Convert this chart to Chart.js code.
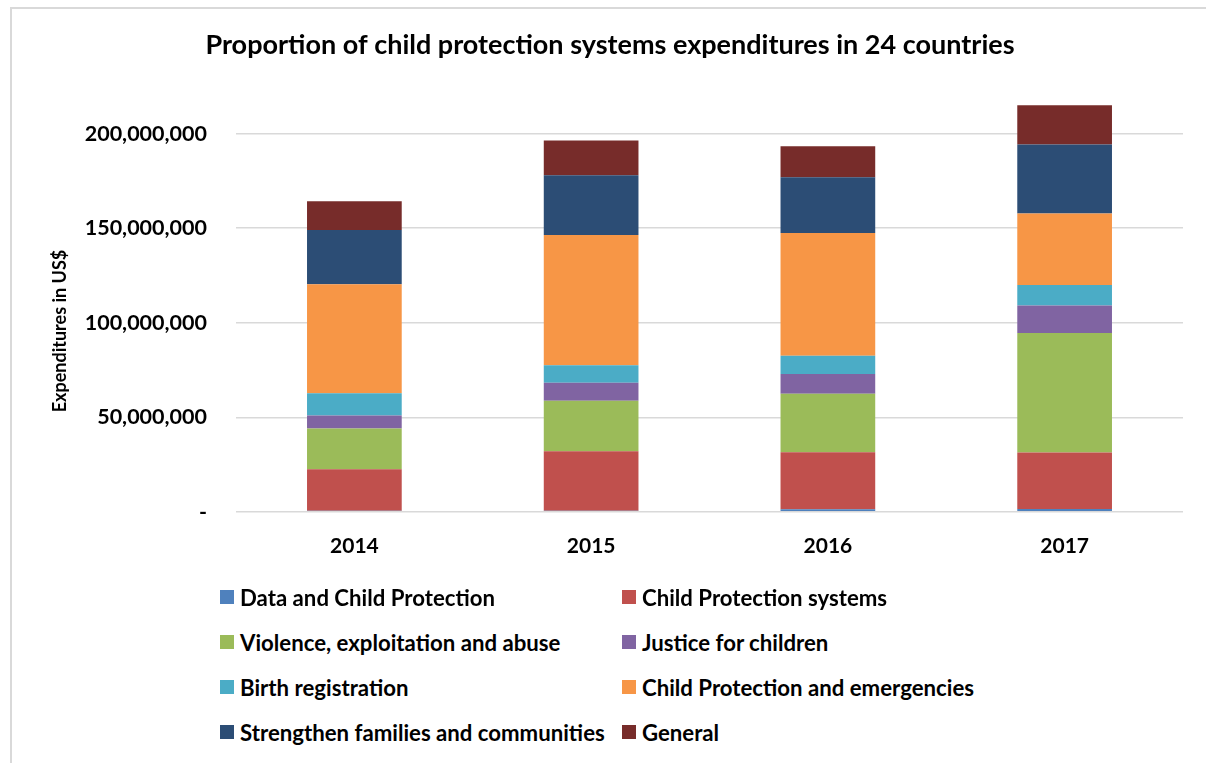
<!DOCTYPE html>
<html>
<head>
<meta charset="utf-8">
<script src="https://cdn.jsdelivr.net/npm/chart.js@4/dist/chart.umd.min.js"></script>
<style>
  html, body { margin: 0; padding: 0; background: #fff; }
  body { width: 1206px; height: 763px; position: relative; overflow: hidden; font-family: Lato, sans-serif; }
  #frame { position: absolute; left: 10px; top: 7px; width: 1210px; height: 770px;
           border-left: 2px solid #d9d9d9; border-top: 2px solid #d9d9d9; }
  #myChart { position: absolute; left: 0; top: 0; }
  #legend { position: absolute; left: 220px; top: 584px; width: 900px; }
  .item { position: absolute; display: flex; align-items: center; font-weight: bold;
          font-size: 22.2px; color: #000; white-space: nowrap; height: 26px; }
  .box { width: 14px; height: 14px; margin-right: 6px; }
</style>
</head>
<body>
<div id="frame"></div>
<canvas id="myChart" width="1206" height="595"></canvas>
<div id="legend"></div>
<script>
// Годы
const years = ["2014", "2015", "2016", "2017"];

// Расходы по направлениям, US$
const dataChildProtection = [500000, 500000, 1300000, 1500000];
const cpSystems = [22000000, 31500000, 30200000, 29800000];
const violence = [21600000, 26800000, 31000000, 63300000];
const justice = [6800000, 9400000, 10400000, 14500000];
const birthReg = [11800000, 9300000, 9600000, 10800000];
const cpEmergencies = [57600000, 68900000, 65000000, 37900000];
const families = [28800000, 31600000, 29400000, 36500000];
const general = [15200000, 18400000, 16400000, 20700000];

const yTicks = [0, 50000000, 100000000, 150000000, 200000000];
const yTitle = "Expenditures in US$";

const series = [
	{ label: "Data and Child Protection", data: dataChildProtection, color: "#4F81BD" },
	{ label: "Child Protection systems", data: cpSystems, color: "#C0504D" },
	{ label: "Violence, exploitation and abuse", data: violence, color: "#9BBB59" },
	{ label: "Justice for children", data: justice, color: "#8064A2" },
	{ label: "Birth registration", data: birthReg, color: "#4BACC6" },
	{ label: "Child Protection and emergencies", data: cpEmergencies, color: "#F79646" },
	{ label: "Strengthen families and communities", data: families, color: "#2C4D75" },
	{ label: "General", data: general, color: "#772C2A" },
];

// Подпись оси Y — чуть ниже центра, как в оригинале
const yTitlePlugin = {
	id: "yTitle",
	afterDraw(chart) {
		const c = chart.ctx;
		c.save();
		c.translate(60, 331);
		c.rotate(-Math.PI / 2);
		c.font = "bold 18px Lato";
		c.fillStyle = "#000";
		c.textAlign = "center";
		c.textBaseline = "middle";
		c.fillText(yTitle, 0, 0);
		c.restore();
	},
};

const ctx = document.getElementById("myChart");

const chart = new Chart(ctx, {
	type: "bar",
	data: {
		labels: years,
		datasets: series.map((s) => ({
			label: s.label,
			data: s.data,
			backgroundColor: s.color,
			borderWidth: 0,
			categoryPercentage: 1,
			barPercentage: 0.4,
		})),
	},
	plugins: [yTitlePlugin],
	options: {
		responsive: false,
		animation: false,
		devicePixelRatio: 1,
		layout: { padding: { left: 37, right: 23, top: 0, bottom: 14 } },
		plugins: {
			legend: { display: false },
			tooltip: { enabled: false },
			title: {
				display: true,
				text: "Proportion of child protection systems expenditures in 24 countries",
				color: "#000",
				font: { family: "Lato", size: 27, weight: "bold" },
				padding: { top: 29, bottom: 25 },
			},
		},
		scales: {
			x: {
				stacked: true,
				grid: { display: false, drawTicks: false },
				border: { display: false },
				ticks: {
					color: "#000",
					padding: 22,
					font: { family: "Lato", size: 21, weight: "bold" },
				},
			},
			y: {
				stacked: true,
				min: 0,
				max: 225000000,
				afterBuildTicks: (axis) => {
					axis.ticks = yTicks.map((v) => ({ value: v }));
				},
				afterFit: (axis) => {
					axis.width = 199;
				},
				grid: { color: "#d9d9d9", lineWidth: 1.5, drawTicks: false },
				border: { display: false },
				ticks: {
					color: "#000",
					padding: 29,
					font: { family: "Lato", size: 21.5, weight: "bold" },
					callback: (v) => (v === 0 ? "-" : Number(v).toLocaleString("en-US")),
				},
			},
		},
	},
});

// Легенда в две колонки
const legend = document.getElementById("legend");
const rowY = [0, 45, 90, 135];
const colX = [0, 402];
series.forEach((s, i) => {
	const item = document.createElement("div");
	item.className = "item";
	item.style.left = colX[i % 2] + "px";
	item.style.top = rowY[Math.floor(i / 2)] + "px";
	item.innerHTML = '<span class="box" style="background:' + s.color + '"></span>' + s.label;
	legend.appendChild(item);
});
</script>
</body>
</html>
